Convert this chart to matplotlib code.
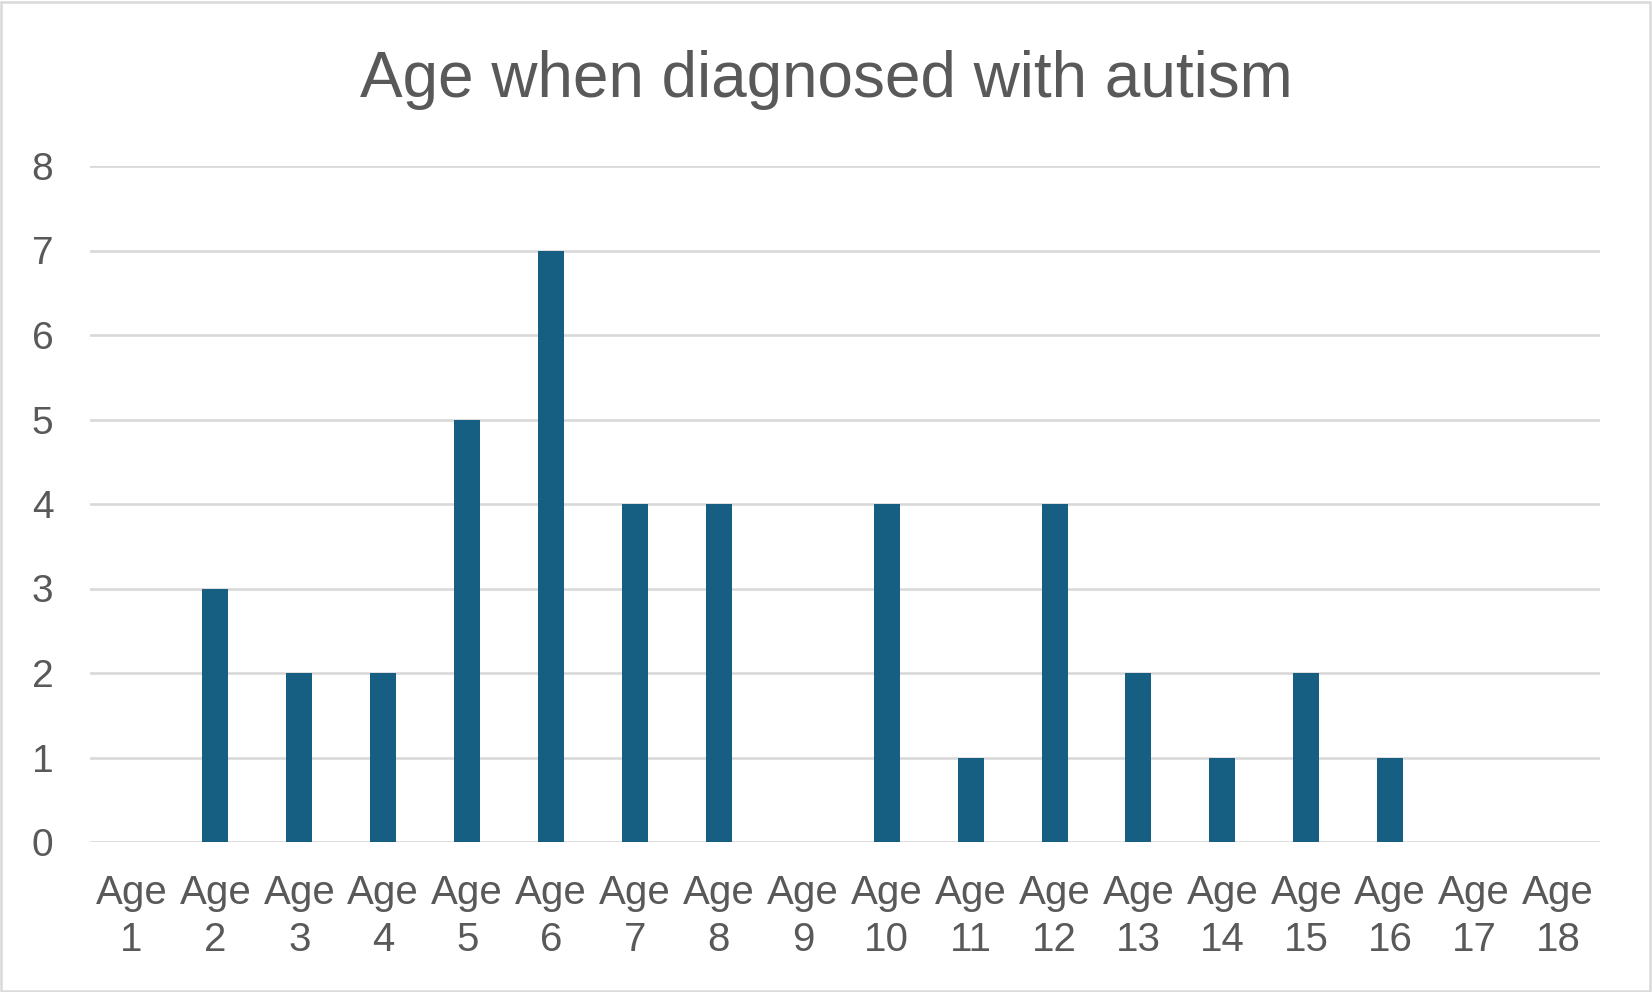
import matplotlib
matplotlib.use("Agg")
import matplotlib.pyplot as plt
from matplotlib.patches import Rectangle

categories = ["Age\n1", "Age\n2", "Age\n3", "Age\n4", "Age\n5", "Age\n6", "Age\n7", "Age\n8", "Age\n9",
              "Age\n10", "Age\n11", "Age\n12", "Age\n13", "Age\n14", "Age\n15", "Age\n16", "Age\n17", "Age\n18"]
counts = [0, 3, 2, 2, 5, 7, 4, 4, 0, 4, 1, 4, 2, 1, 2, 1, 0, 0]
yticks = [0, 1, 2, 3, 4, 5, 6, 7, 8]
title = "Age when diagnosed with autism"

TEXT = "#595959"
GRID = "#D9D9D9"
BAR = "#165F82"

plt.rcParams['font.family'] = ['Liberation Sans', 'DejaVu Sans']

W, H = 1652, 992
fig = plt.figure(figsize=(W / 100, H / 100), dpi=100)
fig.patch.set_facecolor("white")
fig.add_artist(Rectangle((1 / W, 1 / H), 1 - 3 / W, 1 - 3 / H, transform=fig.transFigure,
                         fill=False, edgecolor=GRID, linewidth=1.8))

ax = fig.add_axes([89.6 / W, 1 - 842 / H, (1600 - 89.6) / W, (842 - 166) / H])
x = list(range(len(categories)))
ax.bar(x, counts, width=0.31, color=BAR, zorder=3)
ax.set_xlim(-0.5, len(categories) - 0.5)
ax.set_ylim(0, 8)
ax.set_yticks(yticks)
ax.set_yticklabels([str(v) for v in yticks])
ax.set_xticks(x)
ax.set_xticklabels(categories, linespacing=1.3)
for s in ax.spines.values():
    s.set_visible(False)
ax.grid(axis='y', color=GRID, linewidth=1.9, zorder=0)
ax.tick_params(axis='both', length=0, labelcolor=TEXT)
ax.tick_params(axis='y', pad=26, labelsize=28)
ax.tick_params(axis='x', pad=23, labelsize=29)

fig.text(0.5, 1 - 96.7 / H, title, ha='center', va='baseline', fontsize=46, color=TEXT)

fig.savefig("out.png", dpi=100, facecolor="white")
